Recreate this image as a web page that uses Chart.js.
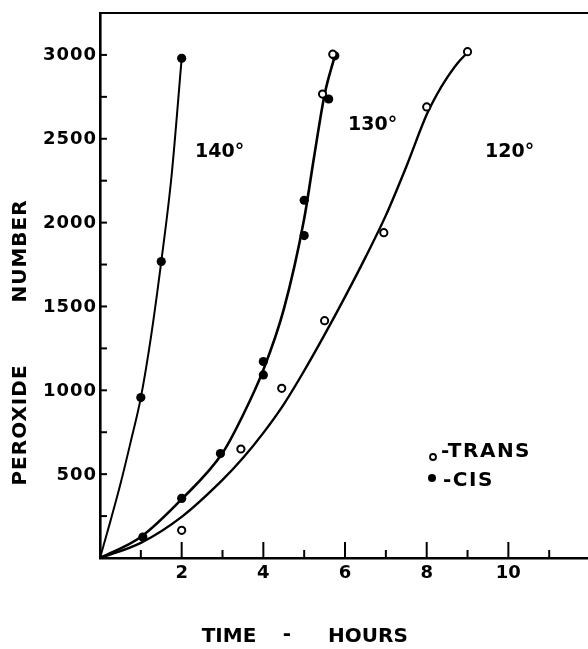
<!DOCTYPE html>
<html>
<head>
<meta charset="utf-8">
<script src="https://cdn.jsdelivr.net/npm/chart.js@4.4.0/dist/chart.umd.min.js"></script>
<style>
  html, body { margin: 0; padding: 0; background: #fff; }
  #wrap { width: 588px; height: 649px; }
</style>
</head>
<body>
<div id="wrap"><canvas id="chart" width="588" height="649"></canvas></div>
<script>
// Peroxide number vs time at three temperatures (cis / trans)
const hourTicks = [2, 4, 6, 8, 10];
const peroxideTicks = [500, 1000, 1500, 2000, 2500, 3000];
const tempLabels = ['140°', '130°', '120°'];

// smooth curves
const curve140Hours = [0, 0.25, 0.5, 0.75, 1, 1.25, 1.5, 1.75, 2];
const curve140Values = [0, 215, 440, 690, 955, 1320, 1765, 2270, 2975];
const curve130Hours = [0, 1, 2, 3, 3.5, 4, 4.5, 5, 5.25, 5.5, 5.75];
const curve130Values = [0, 125, 350, 625, 850, 1120, 1480, 2020, 2400, 2760, 2990];
const curve120Hours = [0, 1, 2, 3, 3.5, 4, 4.5, 5, 5.5, 6, 6.5, 7, 7.5, 8, 8.25, 8.5, 8.75, 9];
const curve120Values = [0, 90, 245, 465, 595, 745, 915, 1115, 1330, 1555, 1790, 2040, 2330, 2640, 2760, 2860, 2945, 3010];

// measured points
const cisHours = [1, 1.5, 2, 1.05, 2, 2.95, 4, 4, 5, 5, 5.6, 5.75];
const cisValues = [955, 1765, 2975, 125, 355, 622, 1090, 1170, 1920, 2130, 2733, 2990];
const transHours = [2, 3.45, 4.45, 5.5, 6.95, 8, 9, 5.45, 5.7];
const transValues = [165, 649, 1010, 1413, 1937, 2686, 3015, 2762, 3000];

const toXY = (xs, ys) => xs.map((x, i) => ({ x: x, y: ys[i] }));

const FONT = '"DejaVu Sans", "Liberation Sans", sans-serif';
Chart.defaults.font.family = FONT;
Chart.defaults.color = '#000';

// ticks, frame and hand lettering of the old figure
const axisInk = {
    id: 'axisInk',
    afterDraw(chart) {
        const { ctx, chartArea: a, scales: { x, y } } = chart;
        const yTop = Math.max(...peroxideTicks);
        ctx.save();
        ctx.strokeStyle = '#000';
        ctx.fillStyle = '#000';
        ctx.lineWidth = 2.2;

        // top frame line
        ctx.beginPath();
        ctx.moveTo(a.left - 1, a.top);
        ctx.lineTo(a.right, a.top);
        ctx.stroke();

        // inward ticks
        ctx.lineWidth = 2;
        y.ticks.forEach(t => {
            if (t.value <= 0 || t.value > yTop) return;
            const py = y.getPixelForValue(t.value);
            const major = peroxideTicks.includes(t.value);
            ctx.beginPath();
            ctx.moveTo(a.left - (major ? 4 : 0), py);
            ctx.lineTo(a.left + (major ? 15 : 7), py);
            ctx.stroke();
        });
        x.ticks.forEach(t => {
            if (t.value <= 0) return;
            const px = x.getPixelForValue(t.value);
            const major = hourTicks.includes(t.value);
            ctx.beginPath();
            ctx.moveTo(px, a.bottom);
            ctx.lineTo(px, a.bottom - (major ? 16 : 8));
            ctx.stroke();
        });

        // y tick labels
        ctx.font = 'bold 18px ' + FONT;
        ctx.letterSpacing = '1px';
        ctx.textAlign = 'right';
        ctx.textBaseline = 'middle';
        peroxideTicks.forEach(v => {
            ctx.fillText(String(v), a.left - 3, y.getPixelForValue(v) + 1);
        });

        // axis titles
        ctx.font = 'bold 20px ' + FONT;
        ctx.letterSpacing = '0px';
        ctx.textAlign = 'center';
        ctx.fillText('TIME', 229, 637);
        ctx.fillText('-', 287, 635);
        ctx.fillText('HOURS', 368, 637);

        ctx.save();
        ctx.translate(21, 0);
        ctx.rotate(-Math.PI / 2);
        ctx.letterSpacing = '1px';
        ctx.fillText('PEROXIDE', -425, 0);
        ctx.fillText('NUMBER', -251, 0);
        ctx.restore();

        // temperature labels
        ctx.font = 'bold 19px ' + FONT;
        ctx.textAlign = 'left';
        ctx.fillText(tempLabels[0], 195, 152);
        ctx.fillText(tempLabels[1], 348, 125);
        ctx.fillText(tempLabels[2], 485, 152);

        // key
        ctx.font = 'bold 20px ' + FONT;
        ctx.letterSpacing = '1.5px';
        ctx.fillText('-TRANS', 441, 452);
        ctx.fillText('-CIS', 443, 481);
        ctx.lineWidth = 1.8;
        ctx.beginPath();
        ctx.arc(433, 457, 3, 0, Math.PI * 2);
        ctx.stroke();
        ctx.beginPath();
        ctx.arc(432, 478, 4, 0, Math.PI * 2);
        ctx.fill();
        ctx.restore();
    }
};

const curveStyle = {
    showLine: true,
    borderColor: '#000',
    pointRadius: 0,
    pointHoverRadius: 0,
    cubicInterpolationMode: 'monotone',
    fill: false
};

new Chart(document.getElementById('chart'), {
    type: 'scatter',
    data: {
        datasets: [
            {
                label: 'TRANS',
                data: toXY(transHours, transValues),
                pointRadius: 3.6,
                pointBorderWidth: 2,
                pointBackgroundColor: '#fff',
                pointBorderColor: '#000'
            },
            {
                label: 'CIS',
                data: toXY(cisHours, cisValues),
                pointRadius: 4.6,
                pointBorderWidth: 0,
                pointBackgroundColor: '#000',
                pointBorderColor: '#000'
            },
            Object.assign({ label: '140°', data: toXY(curve140Hours, curve140Values), borderWidth: 2 }, curveStyle),
            Object.assign({ label: '130°', data: toXY(curve130Hours, curve130Values), borderWidth: 2.6 }, curveStyle),
            Object.assign({ label: '120°', data: toXY(curve120Hours, curve120Values), borderWidth: 2.4 }, curveStyle)
        ]
    },
    options: {
        responsive: false,
        animation: false,
        layout: { autoPadding: false, padding: { top: 13, right: 0, left: 0, bottom: 0 } },
        plugins: {
            legend: { display: false },
            tooltip: { enabled: false }
        },
        scales: {
            x: {
                type: 'linear',
                min: 0,
                max: 11.95,
                grid: { display: false, drawTicks: false },
                border: { display: true, color: '#000', width: 2.6 },
                afterFit: s => {
                    s.height = 91;
                    s.paddingLeft = 0;
                    s.paddingRight = 0;
                },
                ticks: {
                    stepSize: 1,
                    includeBounds: false,
                    autoSkip: false,
                    maxRotation: 0,
                    padding: 6,
                    font: { size: 18, weight: 'bold', lineHeight: 1 },
                    callback: v => hourTicks.includes(v) ? String(v) : ''
                }
            },
            y: {
                type: 'linear',
                min: 0,
                max: 3245,
                grid: { display: false, drawTicks: false },
                border: { display: true, color: '#000', width: 2.6 },
                afterFit: s => {
                    s.width = 100;
                    s.paddingTop = 0;
                    s.paddingBottom = 0;
                },
                ticks: {
                    stepSize: 250,
                    includeBounds: false,
                    autoSkip: false,
                    display: false
                }
            }
        }
    },
    plugins: [axisInk]
});
</script>
</body>
</html>
